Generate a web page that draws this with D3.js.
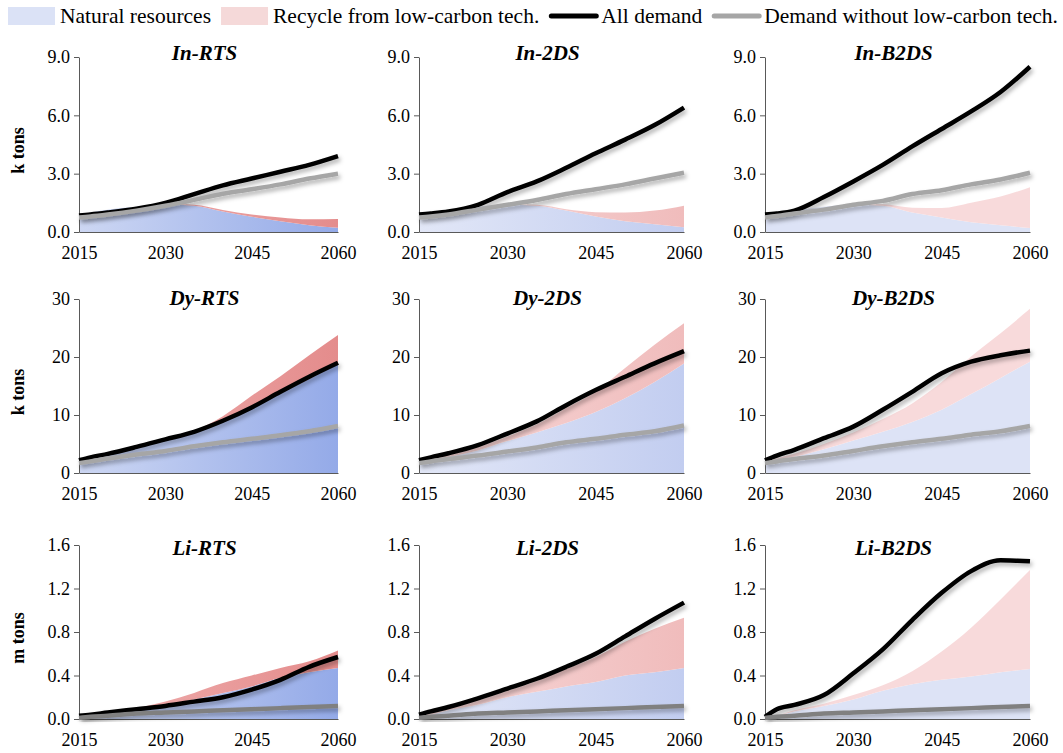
<!DOCTYPE html>
<html>
<head>
    <style>
        body {
            margin: 0;
            background: #ffffff;
        }
        svg, svg text {
            font-family: "Liberation Serif", "Times New Roman", serif;
        }
        .tick text {
            font-size: 18px;
            fill: #000;
        }
        .title {
            font-size: 21px;
            font-weight: bold;
            font-style: italic;
        }
        .unit {
            font-size: 18px;
            font-weight: bold;
        }
        .legend-text {
            font-size: 21.5px;
        }
    </style>
</head>
<body>
    <div id="chart"></div>
    <script src="https://cdnjs.cloudflare.com/ajax/libs/d3/7.8.5/d3.min.js"></script>
    <script>
        const years = [2015, 2017, 2020, 2025, 2030, 2035, 2040, 2045, 2050, 2055, 2060];
        const yearTicks = [2015, 2030, 2045, 2060];

        // In (k tons)
        const inRtsNatural = [0.85, 1.0, 1.15, 1.3, 1.42, 1.35, 1.05, 0.78, 0.55, 0.35, 0.22];
        const inRtsRecycle = [0, 0, 0, 0, 0.02, 0.05, 0.08, 0.12, 0.2, 0.3, 0.45];
        const inRtsAll = [0.85, 0.9, 1.0, 1.2, 1.5, 1.95, 2.4, 2.75, 3.1, 3.45, 3.9];
        const inRtsWithout = [0.75, 0.8, 0.9, 1.1, 1.35, 1.65, 1.97, 2.2, 2.45, 2.75, 3.0];

        const in2dsNatural = [0.85, 0.95, 1.1, 1.3, 1.4, 1.35, 1.1, 0.8, 0.55, 0.4, 0.25];
        const in2dsRecycle = [0, 0, 0, 0, 0.02, 0.05, 0.07, 0.22, 0.45, 0.7, 1.1];
        const in2dsAll = [0.9, 0.95, 1.05, 1.4, 2.05, 2.6, 3.3, 4.05, 4.75, 5.5, 6.4];
        const in2dsWithout = [0.75, 0.8, 0.9, 1.15, 1.4, 1.65, 1.95, 2.2, 2.45, 2.75, 3.05];

        const inB2dsNatural = [0.85, 0.95, 1.1, 1.3, 1.4, 1.35, 1.0, 0.75, 0.5, 0.35, 0.2];
        const inB2dsRecycle = [0, 0, 0, 0, 0.02, 0.08, 0.25, 0.48, 1.0, 1.47, 2.1];
        const inB2dsAll = [0.9, 0.95, 1.1, 1.8, 2.6, 3.45, 4.4, 5.3, 6.2, 7.2, 8.5];
        const inB2dsWithout = [0.75, 0.82, 0.95, 1.15, 1.4, 1.6, 1.95, 2.15, 2.45, 2.7, 3.05];

        // Dy (k tons)
        const dyRtsNatural = [2.2, 2.6, 3.3, 4.5, 5.8, 7.0, 8.8, 11.1, 13.7, 16.2, 18.8];
        const dyRtsRecycle = [0, 0, 0, 0.05, 0.1, 0.3, 1.0, 2.2, 3.0, 4.1, 5.0];
        const dyRtsAll = [2.2, 2.7, 3.3, 4.5, 5.8, 7.1, 9.0, 11.3, 14.0, 16.6, 19.0];
        const dyRtsWithout = [1.7, 2.0, 2.5, 3.2, 3.8, 4.6, 5.3, 5.9, 6.5, 7.2, 8.1];

        const dy2dsNatural = [1.9, 2.3, 2.8, 3.9, 5.5, 7.0, 8.6, 10.5, 12.9, 15.7, 18.9];
        const dy2dsRecycle = [0.1, 0.2, 0.3, 0.6, 0.8, 1.4, 2.6, 3.5, 5.2, 6.4, 6.9];
        const dy2dsAll = [2.2, 2.7, 3.4, 4.8, 6.8, 8.9, 11.7, 14.3, 16.6, 18.9, 21.0];
        const dy2dsWithout = [1.7, 2.0, 2.4, 3.0, 3.7, 4.4, 5.3, 5.9, 6.6, 7.2, 8.2];

        const dyB2dsNatural = [1.9, 2.3, 2.8, 4.1, 5.6, 7.1, 8.8, 10.9, 13.6, 16.4, 19.2];
        const dyB2dsRecycle = [0.05, 0.2, 0.5, 0.9, 1.4, 2.2, 3.2, 4.8, 6.5, 7.7, 9.1];
        const dyB2dsAll = [2.2, 3.0, 4.0, 6.0, 8.0, 10.9, 14.0, 17.2, 19.2, 20.3, 21.1];
        const dyB2dsWithout = [1.7, 2.0, 2.4, 3.0, 3.8, 4.6, 5.3, 5.9, 6.6, 7.2, 8.1];

        // Li (m tons)
        const liRtsNatural = [0.03, 0.04, 0.06, 0.09, 0.13, 0.18, 0.24, 0.3, 0.38, 0.43, 0.47];
        const liRtsRecycle = [0, 0, 0, 0.01, 0.03, 0.06, 0.09, 0.1, 0.09, 0.1, 0.16];
        const liRtsAll = [0.03, 0.04, 0.06, 0.09, 0.12, 0.16, 0.2, 0.27, 0.36, 0.48, 0.57];
        const liRtsWithout = [0.01, 0.02, 0.03, 0.05, 0.06, 0.07, 0.08, 0.09, 0.1, 0.11, 0.12];

        const li2dsNatural = [0.02, 0.04, 0.08, 0.13, 0.2, 0.25, 0.3, 0.34, 0.4, 0.43, 0.47];
        const li2dsRecycle = [0.01, 0.01, 0.02, 0.04, 0.06, 0.1, 0.16, 0.23, 0.31, 0.4, 0.46];
        const li2dsAll = [0.04, 0.07, 0.11, 0.19, 0.28, 0.37, 0.48, 0.6, 0.76, 0.92, 1.07];
        const li2dsWithout = [0.01, 0.02, 0.03, 0.05, 0.06, 0.07, 0.08, 0.09, 0.1, 0.11, 0.12];

        const liB2dsNatural = [0.01, 0.03, 0.07, 0.12, 0.18, 0.26, 0.32, 0.36, 0.39, 0.43, 0.46];
        const liB2dsRecycle = [0, 0, 0.01, 0.02, 0.04, 0.05, 0.12, 0.26, 0.45, 0.67, 0.91];
        const liB2dsAll = [0.02, 0.09, 0.13, 0.22, 0.42, 0.64, 0.91, 1.16, 1.36, 1.46, 1.45];
        const liB2dsWithout = [0.01, 0.02, 0.03, 0.05, 0.06, 0.07, 0.08, 0.09, 0.1, 0.11, 0.12];

        const rowSpecs = [
            { max: 9, ticks: [0, 3, 6, 9], fmt: d3.format(".1f"), unit: "k tons", top: 57, bottom: 232, titleY: 60, withoutColor: "#a6a6a6" },
            { max: 30, ticks: [0, 10, 20, 30], fmt: d3.format("d"), unit: "k tons", top: 299, bottom: 473, titleY: 305, withoutColor: "#a6a6a6" },
            { max: 1.6, ticks: [0, 0.4, 0.8, 1.2, 1.6], fmt: d3.format(".1f"), unit: "m tons", top: 545, bottom: 719, titleY: 555, withoutColor: "#808080" }
        ];
        const colLeft = [79, 419, 765];
        const colRight = [338, 684, 1030];

        const panels = [
            { title: "In-RTS", r: 0, c: 0, natural: inRtsNatural, recycle: inRtsRecycle, all: inRtsAll, without: inRtsWithout },
            { title: "In-2DS", r: 0, c: 1, natural: in2dsNatural, recycle: in2dsRecycle, all: in2dsAll, without: in2dsWithout },
            { title: "In-B2DS", r: 0, c: 2, natural: inB2dsNatural, recycle: inB2dsRecycle, all: inB2dsAll, without: inB2dsWithout },
            { title: "Dy-RTS", r: 1, c: 0, natural: dyRtsNatural, recycle: dyRtsRecycle, all: dyRtsAll, without: dyRtsWithout },
            { title: "Dy-2DS", r: 1, c: 1, natural: dy2dsNatural, recycle: dy2dsRecycle, all: dy2dsAll, without: dy2dsWithout },
            { title: "Dy-B2DS", r: 1, c: 2, natural: dyB2dsNatural, recycle: dyB2dsRecycle, all: dyB2dsAll, without: dyB2dsWithout },
            { title: "Li-RTS", r: 2, c: 0, natural: liRtsNatural, recycle: liRtsRecycle, all: liRtsAll, without: liRtsWithout },
            { title: "Li-2DS", r: 2, c: 1, natural: li2dsNatural, recycle: li2dsRecycle, all: li2dsAll, without: li2dsWithout },
            { title: "Li-B2DS", r: 2, c: 2, natural: liB2dsNatural, recycle: liB2dsRecycle, all: liB2dsAll, without: liB2dsWithout }
        ];

        const svg = d3.select("#chart")
            .append("svg")
            .attr("width", 1063)
            .attr("height", 753);

        const defs = svg.append("defs");

        // soft outer shadow like the office line effect
        defs.append("filter")
            .attr("id", "shadow")
            .attr("x", "-10%").attr("y", "-20%")
            .attr("width", "130%").attr("height", "150%")
            .append("feDropShadow")
            .attr("dx", 2).attr("dy", 3)
            .attr("stdDeviation", 2)
            .attr("flood-color", "#000")
            .attr("flood-opacity", 0.3);

        function gradient(id, from, to) {
            const g = defs.append("linearGradient")
                .attr("id", id)
                .attr("x1", "0").attr("x2", "1")
                .attr("y1", "0").attr("y2", "0");
            g.append("stop").attr("offset", "0%").attr("stop-color", from);
            g.append("stop").attr("offset", "100%").attr("stop-color", to);
        }

        // fill styles per column (RTS, 2DS, B2DS)
        gradient("nat0", "#cdd7f3", "#94aae8");
        gradient("rec0", "#f0b0b0", "#e48c8c");
        gradient("nat1", "#e2e7f7", "#c2cdf0");
        gradient("rec1", "#f7d8d8", "#f0bcbc");
        gradient("nat2", "#dde3f6", "#dde3f6");
        gradient("rec2", "#f8dadb", "#f8dadb");

        panels.forEach(p => {
            const spec = rowSpecs[p.r];
            const x = d3.scaleLinear().domain([2015, 2060]).range([colLeft[p.c], colRight[p.c]]);
            const y = d3.scaleLinear().domain([0, spec.max]).range([spec.bottom, spec.top]);

            const rows = years.map((yr, i) => ({ year: yr, natural: p.natural[i], recycle: p.recycle[i] }));
            const stacked = d3.stack().keys(["natural", "recycle"])(rows);

            const area = d3.area()
                .curve(d3.curveMonotoneX)
                .x(d => x(d.data.year))
                .y0(d => y(d[0]))
                .y1(d => y(d[1]));

            const g = svg.append("g");

            g.selectAll("path.area")
                .data(stacked)
                .enter()
                .append("path")
                .attr("class", "area")
                .attr("d", area)
                .attr("fill", d => `url(#${d.key === "natural" ? "nat" : "rec"}${p.c})`);

            const line = d3.line()
                .curve(d3.curveMonotoneX)
                .x((d, i) => x(years[i]))
                .y(d => y(d));

            // axes
            const yAxis = g.append("g")
                .attr("transform", `translate(${colLeft[p.c]},0)`)
                .call(d3.axisLeft(y).tickValues(spec.ticks).tickFormat(spec.fmt).tickSize(5).tickSizeOuter(0).tickPadding(4))
                .attr("font-family", null)
                .attr("font-size", null);
            yAxis.select(".domain").attr("stroke", "#595959");
            yAxis.selectAll(".tick line").attr("stroke", "#595959");

            const xAxis = g.append("g")
                .attr("transform", `translate(0,${spec.bottom})`)
                .call(d3.axisBottom(x).tickValues(yearTicks).tickFormat(d3.format("d")).tickSize(0).tickPadding(14))
                .attr("font-family", null)
                .attr("font-size", null);
            xAxis.select(".domain").attr("stroke", "#595959");

            g.append("path")
                .datum(p.all)
                .attr("d", line)
                .attr("fill", "none")
                .attr("stroke", "#000")
                .attr("stroke-width", 4.5)
                .attr("stroke-linejoin", "round")
                .attr("filter", "url(#shadow)");

            g.append("path")
                .datum(p.without)
                .attr("d", line)
                .attr("fill", "none")
                .attr("stroke", spec.withoutColor)
                .attr("stroke-width", 4.5)
                .attr("stroke-linejoin", "round")
                .attr("filter", "url(#shadow)");

            g.append("text")
                .attr("class", "title")
                .attr("x", (colLeft[p.c] + colRight[p.c]) / 2 - 4)
                .attr("y", spec.titleY)
                .attr("text-anchor", "middle")
                .text(p.title);

            if (p.c === 0) {
                g.append("text")
                    .attr("class", "unit")
                    .attr("transform", `translate(24,${(spec.top + spec.bottom) / 2 + 6}) rotate(-90)`)
                    .attr("text-anchor", "middle")
                    .text(spec.unit);
            }
        });

        // legend
        const legendItems = [
            { label: "Natural resources", type: "rect", color: "#dbe2f6" },
            { label: "Recycle from low-carbon tech.", type: "rect", color: "#f5d9d9" },
            { label: "All demand", type: "line", color: "#000" },
            { label: "Demand without low-carbon tech.", type: "line", color: "#a6a6a6" }
        ];

        const legend = svg.append("g").attr("class", "legend");
        let lx = 8;
        legendItems.forEach(item => {
            if (item.type === "rect") {
                legend.append("rect")
                    .attr("x", lx).attr("y", 7)
                    .attr("width", 47).attr("height", 18)
                    .attr("fill", item.color);
            } else {
                legend.append("line")
                    .attr("x1", lx + 2).attr("x2", lx + 47)
                    .attr("y1", 16).attr("y2", 16)
                    .attr("stroke", item.color)
                    .attr("stroke-width", 5)
                    .attr("stroke-linecap", "round");
            }
            const t = legend.append("text")
                .attr("class", "legend-text")
                .attr("x", lx + 52)
                .attr("y", 23)
                .text(item.label);
            lx += 52 + t.node().getComputedTextLength() + 10;
        });
    </script>
</body>
</html>
